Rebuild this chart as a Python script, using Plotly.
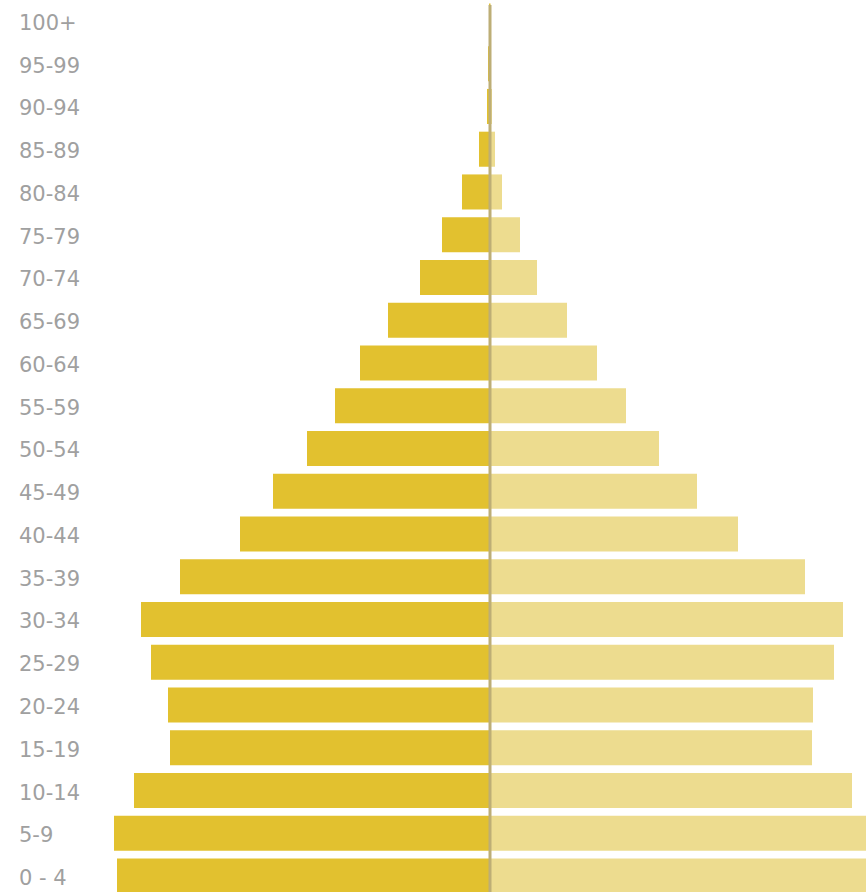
import plotly.graph_objects as go

age_groups = ["0 - 4", "5-9", "10-14", "15-19", "20-24", "25-29", "30-34", "35-39",
              "40-44", "45-49", "50-54", "55-59", "60-64", "65-69", "70-74", "75-79",
              "80-84", "85-89", "90-94", "95-99", "100+"]
male = [373, 376, 356, 320, 322, 339, 349, 310, 250, 217, 183, 155, 130, 102, 70, 48,
        28, 11, 3, 2, 1]
female = [382, 386, 362, 322, 323, 344, 353, 315, 248, 207, 169, 136, 107, 77, 47, 30,
          12, 5, 2, 1, 0.5]

idx = list(range(len(age_groups)))

fig = go.Figure()
fig.add_trace(go.Bar(
    y=idx, x=[-v for v in male], orientation="h",
    marker=dict(color="#E2C12F", line=dict(width=0)),
    hoverinfo="skip", showlegend=False,
))
fig.add_trace(go.Bar(
    y=idx, x=female, orientation="h",
    marker=dict(color="#EDDC8F", line=dict(width=0)),
    hoverinfo="skip", showlegend=False,
))

for i, lab in zip(idx, age_groups):
    fig.add_annotation(
        x=17 / 866, xref="paper", xanchor="left",
        y=i, yref="y", yanchor="middle", yshift=-2,
        text=lab, showarrow=False,
        font=dict(family="DejaVu Sans", size=21, color="#A0A0A0"),
    )

fig.add_shape(
    type="line", xref="x", yref="paper",
    x0=0, x1=0, y0=0, y1=1 - 5 / 892,
    line=dict(color="#BDAE76", width=3), layer="above",
)

fig.update_layout(
    width=866, height=892,
    margin=dict(l=0, r=0, t=0, b=0),
    paper_bgcolor="white", plot_bgcolor="white",
    barmode="relative", bargap=0.18,
    xaxis=dict(range=[-490, 376], visible=False, fixedrange=True),
    yaxis=dict(range=[-0.374, 20.49], visible=False, fixedrange=True),
)

fig.write_html(
    "out.html",
    config={"displayModeBar": False},
    post_script="document.body.style.margin='0';document.body.style.overflow='hidden';"
                "document.documentElement.style.overflow='hidden';",
)
